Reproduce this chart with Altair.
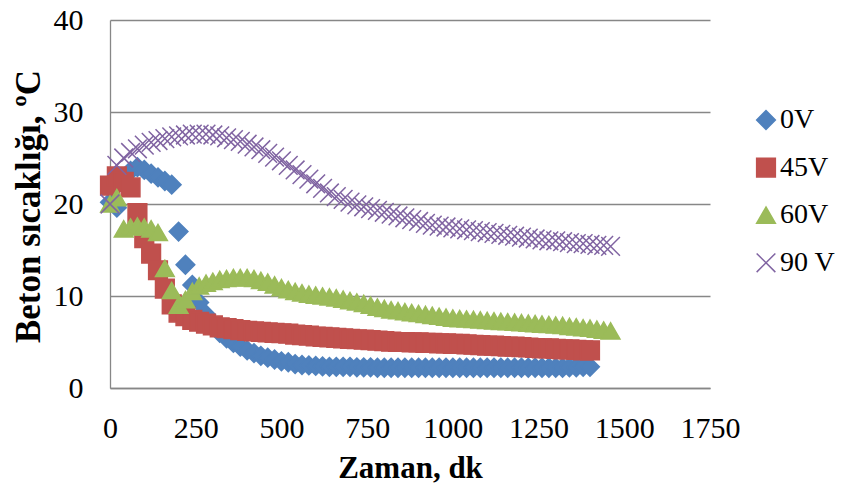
import altair as alt
import pandas as pd

# Time axis (minutes), 20-minute readings
TIME = [0, 20, 40, 60, 80, 100, 120, 140, 160, 180,
        200, 220, 240, 260, 280, 300, 320, 340, 360, 380,
        400, 420, 440, 460, 480, 500, 520, 540, 560, 580,
        600, 620, 640, 660, 680, 700, 720, 740, 760, 780,
        800, 820, 840, 860, 880, 900, 920, 940, 960, 980,
        1000, 1020, 1040, 1060, 1080, 1100, 1120, 1140, 1160, 1180,
        1200, 1220, 1240, 1260, 1280, 1300, 1320, 1340, 1360, 1380,
        1400, 1420, 1440, 1460]

V_0V = [20.2, 19.6, 22.5, 23.6, 24.0, 23.7, 23.3, 22.9, 22.5, 22.1,
        17.0, 13.4, 11.2, 9.3, 8.0, 6.9, 6.0, 5.4, 4.9, 4.5,
        4.1, 3.8, 3.5, 3.3, 3.1, 2.9, 2.8, 2.6, 2.5, 2.45,
        2.4, 2.35, 2.3, 2.3, 2.3, 2.3, 2.25, 2.25, 2.25, 2.2,
        2.2, 2.2, 2.2, 2.2, 2.2, 2.2, 2.2, 2.2, 2.2, 2.2,
        2.2, 2.2, 2.2, 2.2, 2.2, 2.2, 2.2, 2.2, 2.2, 2.2,
        2.2, 2.2, 2.2, 2.2, 2.2, 2.2, 2.2, 2.25, 2.25, 2.3,
        2.3]

V_45V = [22.0, 23.0, 22.4, 21.8, 19.0, 16.3, 14.6, 12.8, 10.8, 9.1,
         8.2, 7.8, 7.4, 7.2, 7.0, 6.8, 6.6, 6.5, 6.4, 6.3,
         6.2, 6.15, 6.1, 6.05, 6.0, 5.95, 5.9, 5.8, 5.75, 5.7,
         5.6, 5.55, 5.5, 5.45, 5.4, 5.35, 5.3, 5.25, 5.2, 5.15,
         5.1, 5.05, 5.0, 5.0, 4.95, 4.95, 4.9, 4.9, 4.85, 4.85,
         4.8, 4.8, 4.75, 4.7, 4.65, 4.6, 4.6, 4.55, 4.5, 4.5,
         4.45, 4.4, 4.35, 4.3, 4.3, 4.25, 4.2, 4.2, 4.15, 4.1,
         4.1]

V_60V = [20.0, 20.7, 17.3, 17.5, 17.6, 17.5, 17.3, 16.9, 13.0, 10.6,
         9.0, 9.6, 10.5, 11.1, 11.4, 11.6, 11.8, 11.9, 12.0, 12.0,
         12.0, 11.9, 11.7, 11.5, 11.2, 10.9, 10.7, 10.5, 10.35, 10.2,
         10.1, 10.0, 9.9, 9.8, 9.65, 9.5, 9.35, 9.2, 9.0, 8.8,
         8.65, 8.5, 8.4, 8.3, 8.2, 8.1, 8.0, 7.9, 7.8, 7.7,
         7.6, 7.55, 7.5, 7.45, 7.4, 7.35, 7.3, 7.25, 7.2, 7.15,
         7.1, 7.05, 7.0, 6.95, 6.9, 6.85, 6.8, 6.7, 6.65, 6.55,
         6.5, 6.4, 6.3, 6.2]

V_90V = [20.0, 24.2, 25.0, 25.6, 26.0, 26.4, 26.7, 26.9, 27.1, 27.3,
         27.4, 27.5, 27.6, 27.6, 27.6, 27.5, 27.4, 27.2, 27.0, 26.8,
         26.5, 26.2, 25.9, 25.5, 25.1, 24.7, 24.2, 23.7, 23.2, 22.7,
         22.2, 21.7, 21.2, 20.8, 20.5, 20.2, 19.9, 19.7, 19.5, 19.3,
         19.1, 18.9, 18.7, 18.5, 18.3, 18.1, 17.9, 17.7, 17.6, 17.5,
         17.4, 17.3, 17.2, 17.1, 17.0, 16.9, 16.8, 16.7, 16.6, 16.5,
         16.4, 16.3, 16.2, 16.1, 16.0, 16.0, 15.9, 15.8, 15.7, 15.7,
         15.6, 15.5, 15.5, 15.4]

SERIES = ["0V", "45V", "60V", "90 V"]
COLORS = ["#4F81BD", "#C0504D", "#9BBB59", "#8064A2"]
SHAPES = ["diamond", "square", "triangle-up", "M-1,-1L1,1M-1,1L1,-1"]
X_TICKS = [0, 250, 500, 750, 1000, 1250, 1500, 1750]
Y_TICKS = [0, 10, 20, 30, 40]

rows = []
for name, vals in zip(SERIES, [V_0V, V_45V, V_60V, V_90V]):
    for t, v in zip(TIME, vals):
        rows.append({"series": name, "t": t, "v": v})
df = pd.DataFrame(rows)

FONT = "Liberation Serif"
GRID = "#878787"

legend = alt.Legend(
    orient="none", legendX=642, legendY=86, title=None,
    labelFont=FONT, labelFontSize=28, labelColor="black",
    symbolSize=350, symbolStrokeWidth=1.5, rowPadding=19.6,
    labelOffset=0, padding=0, labelLimit=200,
)

chart = alt.Chart(df).mark_point(filled=True, opacity=1, size=350, strokeWidth=1.5).encode(
    x=alt.X("t:Q",
            scale=alt.Scale(domain=[0, 1750], nice=False, zero=False),
            axis=alt.Axis(values=X_TICKS, format="d", grid=False, ticks=False,
                          domainColor=GRID, domainWidth=1.3,
                          labelFont=FONT, labelFontSize=30, labelColor="black",
                          labelPadding=25, labelFlush=False, labelOverlap=False,
                          title="Zaman, dk", titleFont=FONT, titleFontSize=31,
                          titleFontWeight="bold", titleColor="black",
                          titleX=300, titleY=89, titleBaseline="alphabetic",
                          titleAlign="center")),
    y=alt.Y("v:Q",
            scale=alt.Scale(domain=[0, 40], nice=False),
            axis=alt.Axis(values=Y_TICKS, grid=True, gridColor=GRID, gridWidth=1.3,
                          ticks=False, domainColor=GRID, domainWidth=1.3,
                          labelFont=FONT, labelFontSize=30, labelColor="black",
                          labelPadding=27, labelFlush=False,
                          title="Beton sıcaklığı, ºC", titleFont=FONT, titleFontSize=35,
                          titleFontWeight="bold", titleColor="black",
                          titleX=-71, titleY=186, titleAngle=270,
                          titleBaseline="alphabetic", titleAlign="center")),
    fill=alt.Fill("series:N", scale=alt.Scale(domain=SERIES, range=COLORS), legend=legend),
    stroke=alt.Stroke("series:N", scale=alt.Scale(domain=SERIES, range=COLORS), legend=legend),
    shape=alt.Shape("series:N", scale=alt.Scale(domain=SERIES, range=SHAPES), legend=legend),
).properties(
    width=600, height=368,
    autosize=alt.AutoSizeParams(type="none"),
    padding={"left": 102, "top": 12, "right": 127, "bottom": 96},
).configure_view(stroke="transparent")

chart.save("out.html", embed_options={"renderer": "svg", "actions": False})
